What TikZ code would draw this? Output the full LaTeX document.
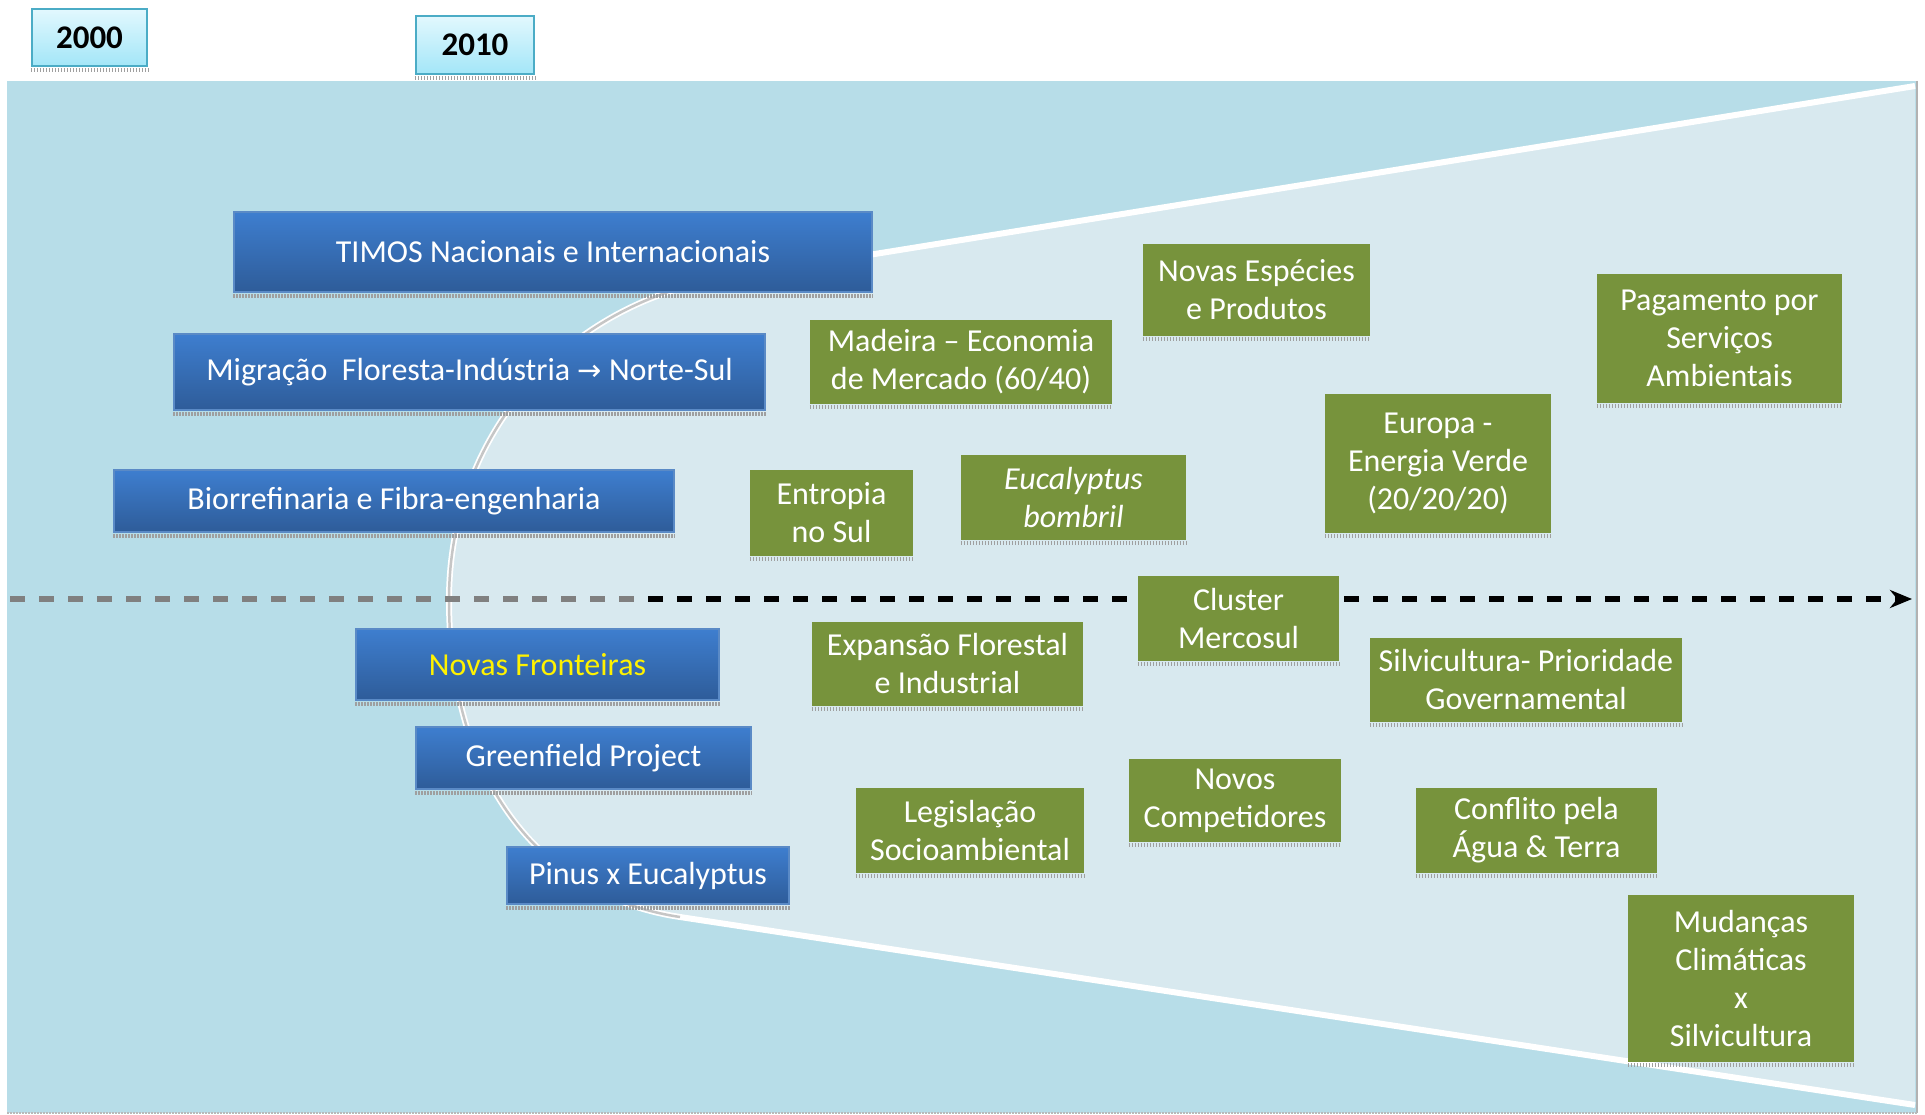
\documentclass[tikz,border=0pt]{standalone}
\usepackage{fontspec}
\setmainfont{Carlito}
\newfontfamily\arrowfont{DejaVu Sans}
\usetikzlibrary{arrows.meta}
\definecolor{bgblue}{HTML}{B7DDE8}
\definecolor{funnelc}{HTML}{D8E9EF}
\definecolor{boxgreen}{HTML}{77933C}
\definecolor{bluetop}{HTML}{3E7ECF}
\definecolor{bluebot}{HTML}{2E5C99}
\definecolor{blueedge}{HTML}{5A8AC6}
\definecolor{yeartop}{HTML}{E2F8FE}
\definecolor{yearbot}{HTML}{A3E6F8}
\definecolor{yearedge}{HTML}{4BACC6}
\begin{document}
\begin{tikzpicture}[x=1pt,y=-1pt,
 every node/.style={font=\fontsize{32}{38}\selectfont, align=center, inner sep=0pt},
 bluebox/.style={draw=blueedge, line width=1.2pt, top color=bluetop, bottom color=bluebot, text=white},
 greenbox/.style={fill=boxgreen, text=white},
 yearbox/.style={draw=yearedge, line width=2.5pt, top color=yeartop, bottom color=yearbot, font=\fontsize{33}{38}\selectfont\bfseries},
 dotline/.style={draw=gray!75, line width=4pt, dash pattern=on 1.5pt off 1.5pt},
 dashgray/.style={draw=gray, line width=6pt, dash pattern=on 15pt off 14pt},
 dashblack/.style={draw=black, line width=6pt, dash pattern=on 15pt off 14pt},
 edgewhite/.style={draw=white, line width=6pt},
 edgesilver/.style={draw=gray!45, line width=2.5pt}
]
\useasboundingbox (0,0) rectangle (1925,1115);
\fill[white] (0,0) rectangle (1925,1115);
% background band
\fill[bgblue] (7,81) rectangle (1917,1113);
% funnel
\fill[funnelc] (1915,86) -- (720,279) .. controls (570,304) and (449,430) .. (449,600)
  .. controls (449,780) and (540,896) .. (680,917) -- (1915,1105) -- cycle;
\draw[edgewhite] (1915,86) -- (720,279) .. controls (570,304) and (449,430) .. (449,600)
  .. controls (449,780) and (540,896) .. (680,917) -- (1915,1105);
\draw[edgesilver] (720,279) .. controls (570,304) and (449,430) .. (449,600)
  .. controls (449,780) and (540,896) .. (680,917);
\draw[gray!60, line width=2pt] (1917,81) -- (1917,1113);
\draw[dotline, draw=gray!55, line width=2pt] (7,1113) -- (1917,1113);

% time axis
\coordinate (aL) at (10,599);
\coordinate (aM) at (648,599);
\coordinate (aR) at (1912,599);
\draw[dashgray] (aL) -- (aM);
\draw[dashblack, -{Stealth[length=22pt,width=18pt]}] (aM) -- (aR);

% year boxes
\node[yearbox, minimum width=115pt, minimum height=57pt] (y2000) at (89.5,37.5) {2000};
\node[yearbox, minimum width=118pt, minimum height=58pt] (y2010) at (475,45) {2010};

% blue boxes
\node[bluebox, minimum width=638pt, minimum height=80pt] (timos) at (553,252) {TIMOS Nacionais e Internacionais};
\node[bluebox, minimum width=591pt, minimum height=76pt] (migr) at (469.5,372) {Migração\ \ Floresta-Indústria {\arrowfont\fontsize{29}{34}\selectfont →} Norte-Sul};
\node[bluebox, minimum width=560pt, minimum height=62pt] (bio) at (394,501) {Biorrefinaria e Fibra-engenharia};
\node[bluebox, minimum width=363pt, minimum height=71pt, text=yellow] (front) at (537.5,664.5) {Novas Fronteiras};
\node[bluebox, minimum width=335pt, minimum height=62pt] (green) at (583.5,758) {Greenfield Project};
\node[bluebox, minimum width=282pt, minimum height=57pt] (pinus) at (648,875.5) {Pinus x Eucalyptus};

% green boxes
\node[greenbox, minimum width=227pt, minimum height=92pt] (especies) at (1256.5,290) {Novas Espécies\\e Produtos};
\node[greenbox, minimum width=302pt, minimum height=84pt] (madeira) at (961,362) {Madeira – Economia\\de Mercado (60/40)};
\node[greenbox, minimum width=245pt, minimum height=129pt] (pagamento) at (1719.5,338.5) {Pagamento por\\Serviços\\Ambientais};
\node[greenbox, minimum width=226pt, minimum height=139pt] (europa) at (1438,463.5) {Europa -\\Energia Verde\\(20/20/20)};
\node[greenbox, minimum width=163pt, minimum height=86pt] (entropia) at (831.5,513) {Entropia\\no Sul};
\node[greenbox, minimum width=225pt, minimum height=85pt] (bombril) at (1073.5,497.5) {\textit{Eucalyptus}\\\textit{bombril}};
\node[greenbox, minimum width=201pt, minimum height=85pt] (cluster) at (1238.5,618.5) {Cluster\\Mercosul};
\node[greenbox, minimum width=271pt, minimum height=84pt] (expansao) at (947.5,664) {Expansão Florestal\\e Industrial};
\node[greenbox, minimum width=312pt, minimum height=84pt] (prioridade) at (1526,680) {Silvicultura- Prioridade\\Governamental};
\node[greenbox, minimum width=228pt, minimum height=85pt] (legis) at (970,830.5) {Legislação\\Socioambiental};
\node[greenbox, minimum width=212pt, minimum height=83pt] (compet) at (1235,800.5) {Novos\\Competidores};
\node[greenbox, minimum width=241pt, minimum height=85pt] (conflito) at (1536.5,830.5) {Conflito pela\\Água \& Terra};
\node[greenbox, minimum width=226pt, minimum height=167pt] (mudancas) at (1741,978.5) {Mudanças\\Climáticas\\x\\Silvicultura};

% dotted shadows under boxes
\foreach \n in {y2000,y2010,timos,migr,bio,front,green,pinus,especies,madeira,pagamento,europa,entropia,bombril,cluster,expansao,prioridade,legis,compet,conflito,mudancas}
  \draw[dotline] ([yshift=-3pt]\n.south west) -- ([yshift=-3pt]\n.south east);
\end{tikzpicture}
\end{document}
